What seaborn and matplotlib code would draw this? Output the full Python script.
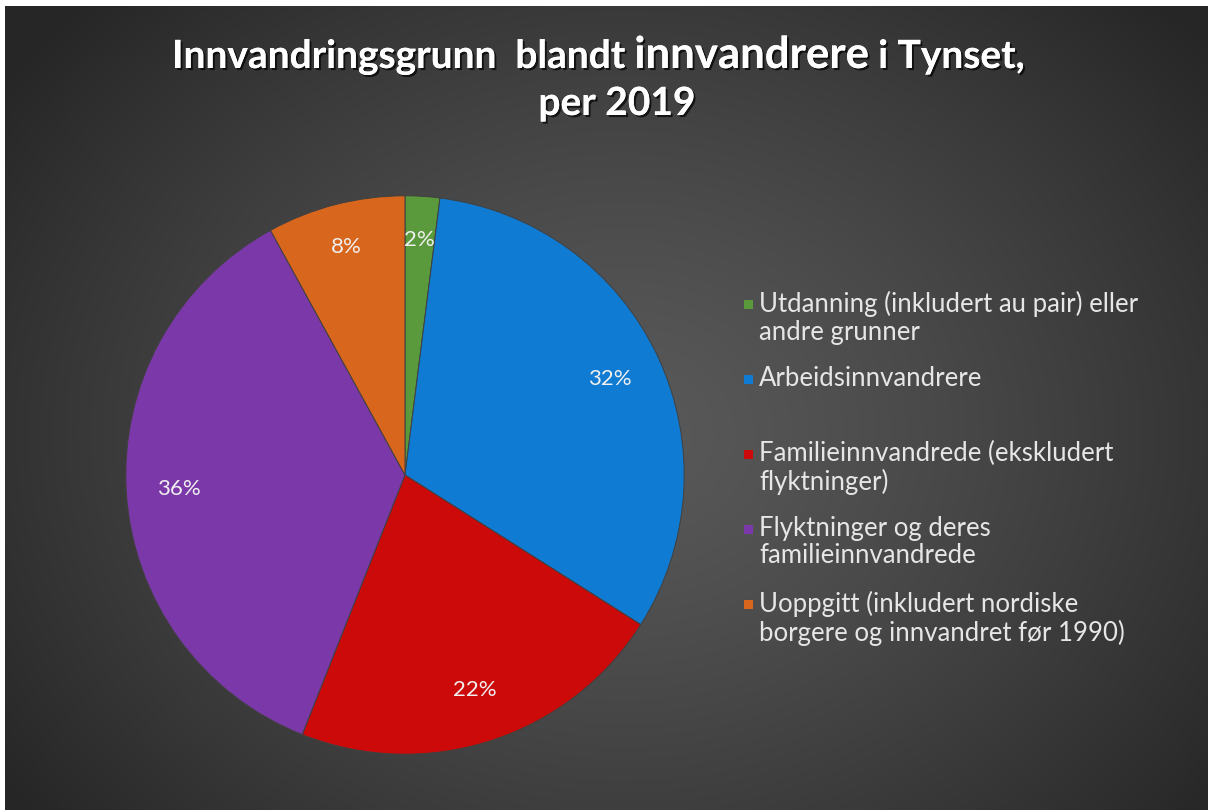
import matplotlib
matplotlib.use("Agg")
import matplotlib.pyplot as plt
import matplotlib.patheffects as pe
from matplotlib.patches import Rectangle
import numpy as np
import seaborn as sns

# data
categories = [
    "Utdanning (inkludert au pair) eller\nandre grunner",
    "Arbeidsinnvandrere",
    "Familieinnvandrede (ekskludert\nflyktninger)",
    "Flyktninger og deres\nfamilieinnvandrede",
    "Uoppgitt (inkludert nordiske\nborgere og innvandret før 1990)",
]
shares = [2, 32, 22, 36, 8]
slice_colors = ["#5a9a3c", "#0f7bd2", "#cc0a0a", "#7b38a8", "#d8661c"]

sns.set_theme(style="dark")
plt.rcParams["font.family"] = ["Lato", "DejaVu Sans"]

W, H = 1208, 810
fig = plt.figure(figsize=(W / 100, H / 100), dpi=100, facecolor="white")

# radial dark background
bg = fig.add_axes([5 / W, 0, 1 - 5 / W, 1 - 6 / H])
yy, xx = np.mgrid[0:H, 0:W]
d = np.sqrt(((xx - 620) / 760) ** 2 + ((yy - 430) / 620) ** 2)
shade = 0.35 - 0.2 * np.clip(d, 0, 1) ** 1.3
bg.imshow(np.dstack([shade] * 3), aspect="auto", extent=(0, 1, 0, 1))
bg.set_axis_off()

# pie
cx, cy, r = 405, 475, 282
ax = fig.add_axes([(cx - r) / W, (H - cy - r) / H, 2 * r / W, 2 * r / H])
wedges, texts, autotexts = ax.pie(
    shares,
    colors=slice_colors,
    startangle=90,
    counterclock=False,
    autopct="%1.0f%%",
    pctdistance=0.81,
    radius=1,
    wedgeprops=dict(edgecolor="#404040", linewidth=0.7),
    textprops=dict(color="#f0f0f0", fontsize=16),
)
# small slices sit a bit further out
for at, s in zip(autotexts, shares):
    if s < 10:
        x, y = at.get_position()
        at.set_position((x * 1.04, y * 1.04))
ax.set_xlim(-1.01, 1.01)
ax.set_ylim(-1.01, 1.01)
ax.set_aspect("equal")
ax.set_axis_off()

# title with larger middle word
shadow = [pe.withSimplePatchShadow(offset=(1.5, -1.5), shadow_rgbFace="black", alpha=0.7), pe.Normal()]
base_y = 1 - 68 / H
t1 = fig.text(172 / W, base_y, "Innvandringsgrunn  blandt ", color="white",
              fontsize=28, fontweight="bold", ha="left", va="baseline", path_effects=shadow)
t2 = fig.text(0, base_y, "innvandrere", color="white", fontsize=31.5, fontweight="bold",
              va="baseline", path_effects=shadow)
t3 = fig.text(0, base_y, " i Tynset,", color="white", fontsize=28, fontweight="bold",
              va="baseline", path_effects=shadow)
fig.canvas.draw()
rend = fig.canvas.get_renderer()
bb1 = t1.get_window_extent(rend)
t2.set_x(bb1.x1 / W)
bb2 = t2.get_window_extent(rend)
t3.set_x(bb2.x1 / W)
fig.text(617 / W, 1 - 115 / H, "per 2019", color="white", fontsize=28, fontweight="bold",
         ha="center", va="baseline", path_effects=shadow)

# legend
for i, (lab, col) in enumerate(zip(categories, slice_colors)):
    y = 1 - (305 + i * 75) / H
    fig.patches.append(Rectangle((744 / W, y - 4 / H), 9 / W, 9 / H, facecolor=col,
                                 edgecolor="none", transform=fig.transFigure))
    fig.text(759 / W, y + 14 / H, lab, color="#e6e6e6", fontsize=18.5, ha="left", va="top",
             linespacing=1.12)

fig.savefig("out.png", dpi=100, facecolor="white")
